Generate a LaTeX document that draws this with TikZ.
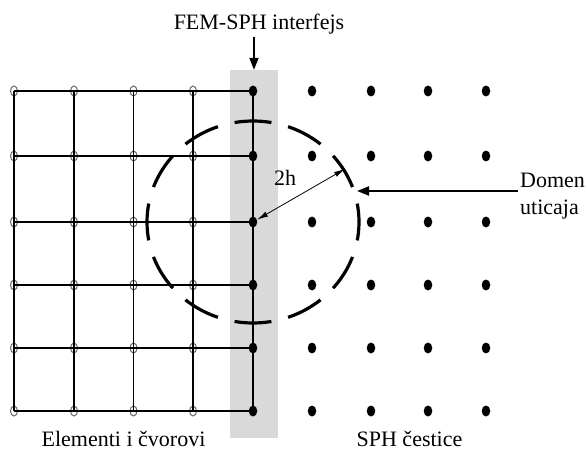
\documentclass[tikz,border=0pt]{standalone}
\usepackage{fontspec}
\setmainfont{Liberation Serif}
\usetikzlibrary{arrows.meta,shapes.geometric}
\begin{document}
\begin{tikzpicture}[x=1pt,y=-1pt,
  lbl/.style={font=\fontsize{22}{27}\selectfont, inner sep=0pt},
  hollow/.style={ellipse, draw=black!60, line width=1pt, minimum width=7pt, minimum height=10pt, inner sep=0pt},
  fdot/.style={ellipse, fill=black, minimum width=8.5pt, minimum height=11pt, inner sep=0pt},
  gridline/.style={line width=1.4pt},
  bigarrow/.style={line width=1.8pt, -{Triangle[length=12pt,width=9pt]}},
  smallarrow/.style={line width=0.8pt, {Latex[length=11pt,width=5.5pt]}-{Latex[length=11pt,width=5.5pt]}}
]
\useasboundingbox (0,0) rectangle (587,452);
% interface band
\node[fill=gray!30, minimum width=48pt, minimum height=368pt, inner sep=0pt] (band) at (254,254) {};
% FEM grid nodes
\foreach \x [count=\i] in {14,74,133.5,193,253} {
  \foreach \y [count=\j] in {91,156,222,285,348,411} {
    \ifnum\i=5
      \node[fdot] (g-\i-\j) at (\x,\y) {};
    \else
      \node[hollow] (g-\i-\j) at (\x,\y) {};
    \fi
  }
}
\foreach \j in {1,...,6} \draw[gridline] (g-1-\j.center) -- (g-5-\j.center);
\foreach \i in {1,...,5} \draw[gridline] (g-\i-1.center) -- (g-\i-6.center);
% SPH particles
\foreach \x [count=\i] in {312,371,428,486} {
  \foreach \y [count=\j] in {91,156,222,285,348,411} {
    \node[fdot] (s-\i-\j) at (\x,\y) {};
  }
}
% influence domain
\node[ellipse, draw, line width=3.2pt, dash pattern=on 37pt off 17.2pt, dash phase=18.5pt,
      minimum width=212pt, minimum height=202pt, inner sep=0pt] (dom) at (253,222) {};
\draw[smallarrow] (g-5-3) -- (dom.30);
\node[lbl] (twoh) at (285,178) {2h};
% labels
\node[lbl, anchor=base] (fem) at (259,30) {FEM-SPH interfejs};
\draw[bigarrow, shorten <=2pt] (fem.south -| band.north) -- (band.north);
\node[lbl, anchor=north west, align=left] (dtxt) at (520,173) {Domen\\uticaja};
\coordinate (dtip) at (357,191);
\draw[bigarrow] ([xshift=-2pt]dtxt.west |- dtip) -- (dtip);
\node[lbl, anchor=base] (elem) at (123.5,446) {Elementi i čvorovi};
\node[lbl, anchor=base] (sph) at (409.5,446) {SPH čestice};
\end{tikzpicture}
\end{document}
